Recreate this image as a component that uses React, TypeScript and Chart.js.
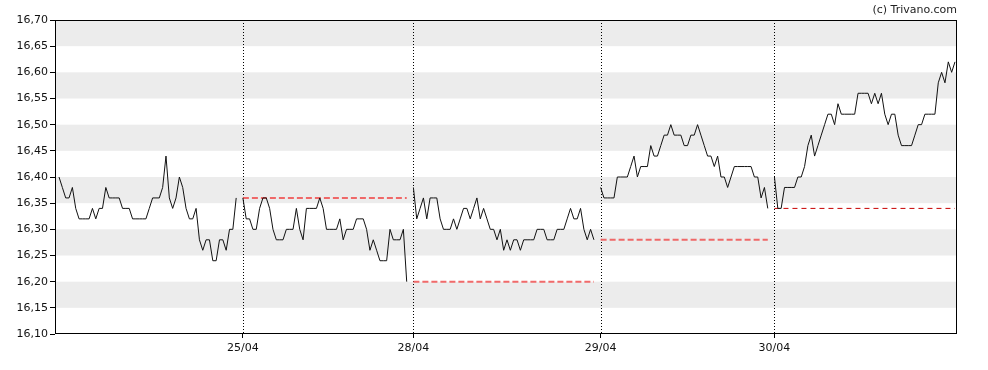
import React, { useEffect, useRef } from 'react';
import { Chart, registerables } from 'chart.js';

Chart.register(...registerables);

// Intraday prices per trading day
const day1 = [
  16.40, 16.38, 16.36, 16.36, 16.38, 16.34, 16.32, 16.32, 16.32, 16.32,
  16.34, 16.32, 16.34, 16.34, 16.38, 16.36, 16.36, 16.36, 16.36, 16.34,
  16.34, 16.34, 16.32, 16.32, 16.32, 16.32, 16.32, 16.34, 16.36, 16.36,
  16.36, 16.38, 16.44, 16.36, 16.34, 16.36, 16.40, 16.38, 16.34, 16.32,
  16.32, 16.34, 16.28, 16.26, 16.28, 16.28, 16.24, 16.24, 16.28, 16.28,
  16.26, 16.30, 16.30, 16.36,
];
const day2 = [
  16.36, 16.32, 16.32, 16.30, 16.30, 16.34, 16.36, 16.36, 16.34, 16.30,
  16.28, 16.28, 16.28, 16.30, 16.30, 16.30, 16.34, 16.30, 16.28, 16.34,
  16.34, 16.34, 16.34, 16.36, 16.34, 16.30, 16.30, 16.30, 16.30, 16.32,
  16.28, 16.30, 16.30, 16.30, 16.32, 16.32, 16.32, 16.30, 16.26, 16.28,
  16.26, 16.24, 16.24, 16.24, 16.30, 16.28, 16.28, 16.28, 16.30, 16.20,
];
const day3 = [
  16.38, 16.32, 16.34, 16.36, 16.32, 16.36, 16.36, 16.36, 16.32, 16.30,
  16.30, 16.30, 16.32, 16.30, 16.32, 16.34, 16.34, 16.32, 16.34, 16.36,
  16.32, 16.34, 16.32, 16.30, 16.30, 16.28, 16.30, 16.26, 16.28, 16.26,
  16.28, 16.28, 16.26, 16.28, 16.28, 16.28, 16.28, 16.30, 16.30, 16.30,
  16.28, 16.28, 16.28, 16.30, 16.30, 16.30, 16.32, 16.34, 16.32, 16.32,
  16.34, 16.30, 16.28, 16.30, 16.28,
];
const day4 = [
  16.38, 16.36, 16.36, 16.36, 16.36, 16.40, 16.40, 16.40, 16.40, 16.42,
  16.44, 16.40, 16.42, 16.42, 16.42, 16.46, 16.44, 16.44, 16.46, 16.48,
  16.48, 16.50, 16.48, 16.48, 16.48, 16.46, 16.46, 16.48, 16.48, 16.50,
  16.48, 16.46, 16.44, 16.44, 16.42, 16.44, 16.40, 16.40, 16.38, 16.40,
  16.42, 16.42, 16.42, 16.42, 16.42, 16.42, 16.40, 16.40, 16.36, 16.38,
  16.34,
];
const day5 = [
  16.40, 16.34, 16.34, 16.38, 16.38, 16.38, 16.38, 16.40, 16.40, 16.42,
  16.46, 16.48, 16.44, 16.46, 16.48, 16.50, 16.52, 16.52, 16.50, 16.54,
  16.52, 16.52, 16.52, 16.52, 16.52, 16.56, 16.56, 16.56, 16.56, 16.54,
  16.56, 16.54, 16.56, 16.52, 16.50, 16.52, 16.52, 16.48, 16.46, 16.46,
  16.46, 16.46, 16.48, 16.50, 16.50, 16.52, 16.52, 16.52, 16.52, 16.58,
  16.60, 16.58, 16.62, 16.60, 16.62,
];

const days = [day1, day2, day3, day4, day5];
// First time slot of each trading day on the x axis
const dayStartSlot = [0, 55, 106, 162, 214];
// Labels at the day boundaries (days 2..5)
const boundaryLabels = ['25/04', '28/04', '29/04', '30/04'];

const yMin = 16.1;
const yMax = 16.7;
const yStep = 0.05;
const xMin = -1.2;
const xMax = 268.6;
const copyrightText = '(c) Trivano.com';

const FONT = "'DejaVu Sans', sans-serif";

export default function App() {
  const ref = useRef<HTMLCanvasElement | null>(null);

  useEffect(() => {
    if (!ref.current) return;

    const priceSets = days.map((vals, d) => ({
      data: vals.map((v, i) => ({ x: dayStartSlot[d] + i, y: v })),
      borderColor: '#111111',
      borderWidth: 1,
      pointRadius: 0,
      tension: 0,
      order: 0,
    }));

    const refSets = days.slice(1).map((vals, j) => {
      const d = j + 1;
      const prevDay = days[d - 1];
      const prevClose = prevDay[prevDay.length - 1];
      const isLast = d === days.length - 1;
      return {
        data: [
          { x: dayStartSlot[d], y: prevClose },
          { x: dayStartSlot[d] + vals.length - 1, y: prevClose },
        ],
        borderColor: isLast ? '#c80000' : 'rgba(240,90,90,0.9)',
        borderWidth: isLast ? 1 : 2,
        borderDash: isLast ? [5, 4] : [6, 3],
        pointRadius: 0,
        tension: 0,
        order: 1,
      };
    });

    const bandsPlugin = {
      id: 'bands',
      beforeDraw(chart: any) {
        const { ctx, chartArea, scales } = chart;
        const y = scales.y;
        ctx.save();
        ctx.fillStyle = '#ececec';
        let i = 0;
        for (let v = yMax; v > yMin + 1e-9; v -= yStep, i++) {
          if (i % 2 === 0) {
            const t = y.getPixelForValue(v);
            const b = y.getPixelForValue(v - yStep);
            ctx.fillRect(chartArea.left, t, chartArea.right - chartArea.left, b - t);
          }
        }
        ctx.restore();
      },
      beforeDatasetsDraw(chart: any) {
        const { ctx, chartArea, scales } = chart;
        const x = scales.x;
        ctx.save();
        ctx.strokeStyle = '#000';
        ctx.lineWidth = 1;
        ctx.setLineDash([1, 2]);
        x.ticks.forEach((t: any) => {
          const px = Math.round(x.getPixelForValue(t.value)) + 0.5;
          ctx.beginPath();
          ctx.moveTo(px, chartArea.top);
          ctx.lineTo(px, chartArea.bottom);
          ctx.stroke();
        });
        ctx.restore();
      },
      afterDatasetsDraw(chart: any) {
        const { ctx, chartArea } = chart;
        ctx.save();
        ctx.strokeStyle = '#000';
        ctx.lineWidth = 1;
        ctx.setLineDash([]);
        const l = Math.round(chartArea.left) + 0.5;
        const t = Math.round(chartArea.top) + 0.5;
        const r = Math.round(chartArea.right) - 0.5;
        const b = Math.round(chartArea.bottom) - 0.5;
        ctx.strokeRect(l, t, r - l, b - t);
        ctx.restore();
      },
      afterDraw(chart: any) {
        const { ctx } = chart;
        ctx.save();
        ctx.fillStyle = '#222';
        ctx.font = `11px ${FONT}`;
        ctx.textAlign = 'right';
        ctx.textBaseline = 'alphabetic';
        ctx.fillText(copyrightText, 957, 13);
        ctx.restore();
      },
    };

    const chart = new Chart(ref.current, {
      type: 'line',
      data: { datasets: [...priceSets, ...refSets] as any },
      options: {
        animation: false,
        responsive: false,
        maintainAspectRatio: false,
        layout: { padding: { left: 0, top: 20, right: 31, bottom: 0 } },
        plugins: {
          legend: { display: false },
          tooltip: { enabled: false },
        },
        scales: {
          x: {
            type: 'linear',
            min: xMin,
            max: xMax,
            afterBuildTicks: (axis: any) => {
              axis.ticks = dayStartSlot.slice(1).map((v) => ({ value: v }));
            },
            afterFit: (axis: any) => {
              axis.height = 36;
            },
            ticks: {
              autoSkip: false,
              maxRotation: 0,
              padding: 4,
              color: '#111',
              font: { family: FONT, size: 11 },
              callback: (_v: any, i: number) => boundaryLabels[i],
            },
            grid: {
              drawOnChartArea: false,
              drawTicks: true,
              tickLength: 4,
              color: '#000',
            },
            border: { display: false },
          },
          y: {
            type: 'linear',
            min: yMin,
            max: yMax,
            afterFit: (axis: any) => {
              axis.width = 55;
            },
            ticks: {
              stepSize: yStep,
              padding: 2,
              color: '#111',
              font: { family: FONT, size: 11 },
              callback: (v: any) => Number(v).toFixed(2).replace('.', ','),
            },
            grid: {
              drawOnChartArea: false,
              drawTicks: true,
              tickLength: 5,
              color: '#000',
            },
            border: { display: false },
          },
        },
      } as any,
      plugins: [bandsPlugin],
    });

    return () => chart.destroy();
  }, []);

  return (
    <div style={{ position: 'absolute', left: 0, top: 0, width: 988, height: 370, background: '#fff' }}>
      <canvas ref={ref} width={988} height={370} style={{ display: 'block', width: 988, height: 370 }} />
    </div>
  );
}
